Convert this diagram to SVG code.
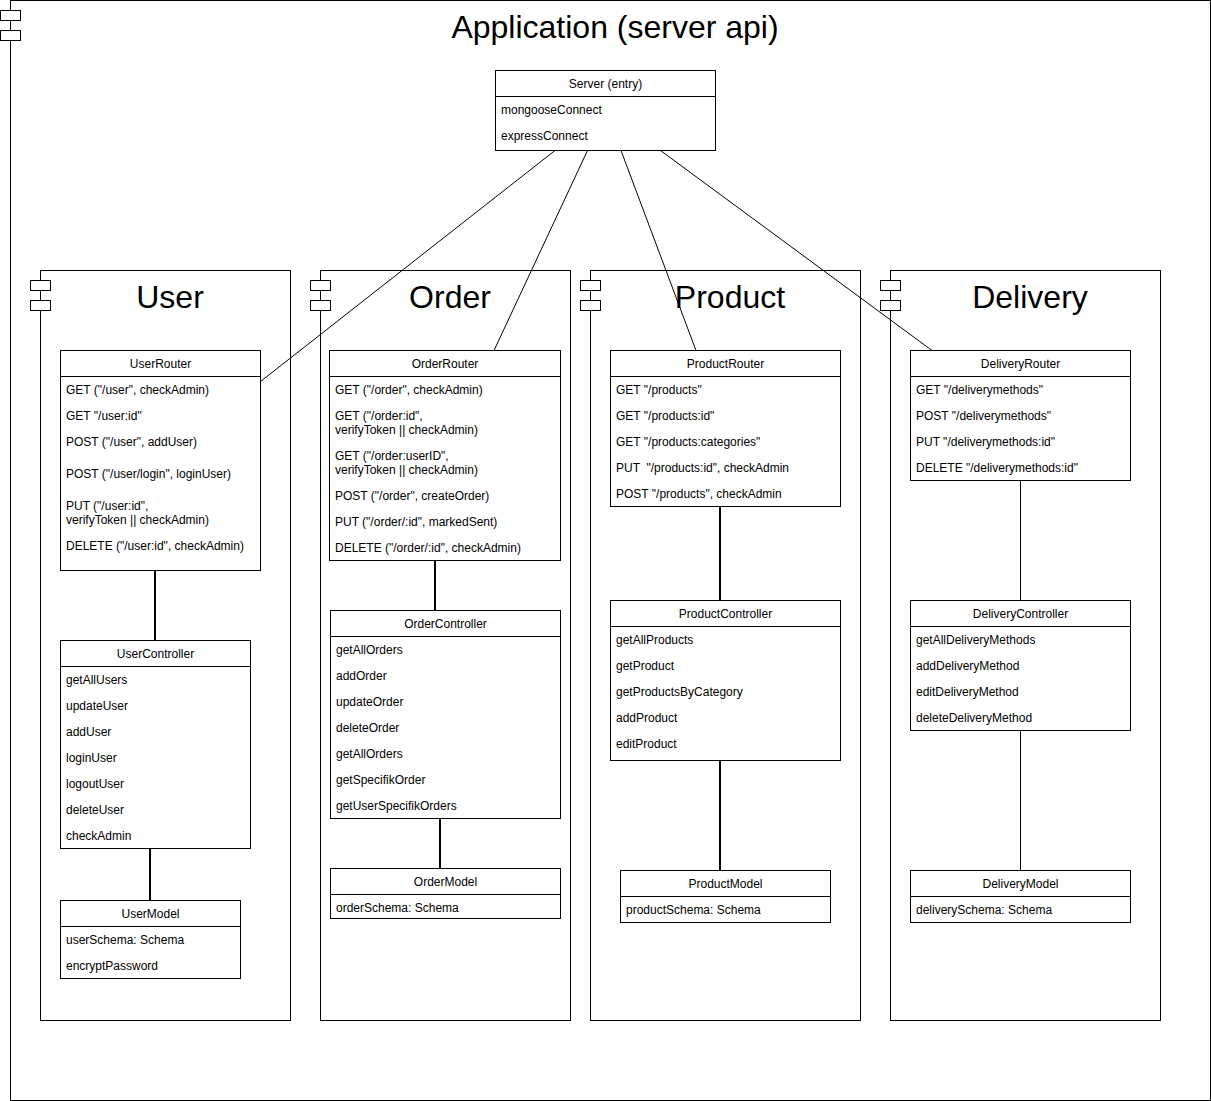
<svg xmlns="http://www.w3.org/2000/svg" width="1211" height="1101" viewBox="0 0 1211 1101">
<style>
.frame{fill:#fff;stroke:#000;stroke-width:1}
.box{fill:#fff;stroke:#000;stroke-width:1}
.sep{stroke:#000;stroke-width:1}
.t{font-family:"Liberation Sans",Arial,Helvetica,sans-serif;font-size:12px;fill:#000}
.h{text-anchor:middle}
.big{font-family:"Liberation Sans",Arial,Helvetica,sans-serif;font-size:32px;fill:#000;text-anchor:middle}
.c1{stroke:#000;stroke-width:1;fill:none}
.c2{stroke:#000;stroke-width:2;fill:none}
</style>
<rect x="0" y="0" width="1211" height="1101" fill="#fff"/>
<g id="app">
<rect class="frame" x="10.5" y="0.5" width="1200" height="1100"/>
<rect class="frame" x="0.5" y="10.5" width="20" height="10"/>
<rect class="frame" x="0.5" y="30.5" width="20" height="10"/>
<text class="big" x="615" y="38">Application (server api)</text>
</g>
<g id="userComp">
<rect class="frame" x="40.5" y="270.5" width="250" height="750"/>
<rect class="frame" x="30.5" y="280.5" width="20" height="10"/>
<rect class="frame" x="30.5" y="300.5" width="20" height="10"/>
<text class="big" x="170" y="308">User</text>
</g>
<g id="orderComp">
<rect class="frame" x="320.5" y="270.5" width="250" height="750"/>
<rect class="frame" x="310.5" y="280.5" width="20" height="10"/>
<rect class="frame" x="310.5" y="300.5" width="20" height="10"/>
<text class="big" x="450" y="308">Order</text>
</g>
<g id="productComp">
<rect class="frame" x="590.5" y="270.5" width="270" height="750"/>
<rect class="frame" x="580.5" y="280.5" width="20" height="10"/>
<rect class="frame" x="580.5" y="300.5" width="20" height="10"/>
<text class="big" x="730" y="308">Product</text>
</g>
<g id="deliveryComp">
<rect class="frame" x="890.5" y="270.5" width="270" height="750"/>
<rect class="frame" x="880.5" y="280.5" width="20" height="10"/>
<rect class="frame" x="880.5" y="300.5" width="20" height="10"/>
<text class="big" x="1030" y="308">Delivery</text>
</g>

<g id="connectors">
<line class="c1" x1="555" y1="150.5" x2="260.5" y2="381.5"/>
<line class="c1" x1="587.5" y1="150.5" x2="494" y2="350.5"/>
<line class="c1" x1="621" y1="150.5" x2="696" y2="350.5"/>
<line class="c1" x1="660.5" y1="150.5" x2="932" y2="350.5"/>
<line class="c2" x1="155" y1="570.5" x2="155" y2="640.5"/>
<line class="c2" x1="150" y1="848.5" x2="150" y2="900.5"/>
<line class="c2" x1="435" y1="560.5" x2="435" y2="610.5"/>
<line class="c2" x1="440" y1="818.5" x2="440" y2="868.5"/>
<line class="c2" x1="720" y1="506.5" x2="720" y2="600.5"/>
<line class="c2" x1="720" y1="760.5" x2="720" y2="870.5"/>
<line class="c1" x1="1020.5" y1="480.5" x2="1020.5" y2="600.5"/>
<line class="c1" x1="1020.5" y1="730.5" x2="1020.5" y2="870.5"/>
</g>

<g id="server">
<rect class="box" x="495.5" y="70.5" width="220" height="80"/>
<line class="sep" x1="495.5" y1="96.5" x2="715.5" y2="96.5"/>
<text class="t h" x="605.5" y="88">Server (entry)</text>
<text class="t" x="501" y="114">mongooseConnect</text>
<text class="t" x="501" y="140">expressConnect</text>
</g>

<g id="userRouter">
<rect class="box" x="60.5" y="350.5" width="200" height="220"/>
<line class="sep" x1="60.5" y1="376.5" x2="260.5" y2="376.5"/>
<text class="t h" x="160.5" y="368">UserRouter</text>
<text class="t" x="66" y="394">GET ("/user", checkAdmin)</text>
<text class="t" x="66" y="420">GET "/user:id"</text>
<text class="t" x="66" y="446">POST ("/user", addUser)</text>
<text class="t" x="66" y="478">POST ("/user/login", loginUser)</text>
<text class="t" x="66" y="510">PUT ("/user:id",</text>
<text class="t" x="66" y="524">verifyToken || checkAdmin)</text>
<text class="t" x="66" y="550">DELETE ("/user:id", checkAdmin)</text>
</g>
<g id="userController">
<rect class="box" x="60.5" y="640.5" width="190" height="208"/>
<line class="sep" x1="60.5" y1="666.5" x2="250.5" y2="666.5"/>
<text class="t h" x="155.5" y="658">UserController</text>
<text class="t" x="66" y="684">getAllUsers</text>
<text class="t" x="66" y="710">updateUser</text>
<text class="t" x="66" y="736">addUser</text>
<text class="t" x="66" y="762">loginUser</text>
<text class="t" x="66" y="788">logoutUser</text>
<text class="t" x="66" y="814">deleteUser</text>
<text class="t" x="66" y="840">checkAdmin</text>
</g>
<g id="userModel">
<rect class="box" x="60.5" y="900.5" width="180" height="78"/>
<line class="sep" x1="60.5" y1="926.5" x2="240.5" y2="926.5"/>
<text class="t h" x="150.5" y="918">UserModel</text>
<text class="t" x="66" y="944">userSchema: Schema</text>
<text class="t" x="66" y="970">encryptPassword</text>
</g>

<g id="orderRouter">
<rect class="box" x="329.5" y="350.5" width="231" height="210"/>
<line class="sep" x1="329.5" y1="376.5" x2="560.5" y2="376.5"/>
<text class="t h" x="445" y="368">OrderRouter</text>
<text class="t" x="335" y="394">GET ("/order", checkAdmin)</text>
<text class="t" x="335" y="420">GET ("/order:id",</text>
<text class="t" x="335" y="434">verifyToken || checkAdmin)</text>
<text class="t" x="335" y="460">GET ("/order:userID",</text>
<text class="t" x="335" y="474">verifyToken || checkAdmin)</text>
<text class="t" x="335" y="500">POST ("/order", createOrder)</text>
<text class="t" x="335" y="526">PUT ("/order/:id", markedSent)</text>
<text class="t" x="335" y="552">DELETE ("/order/:id", checkAdmin)</text>
</g>
<g id="orderController">
<rect class="box" x="330.5" y="610.5" width="230" height="208"/>
<line class="sep" x1="330.5" y1="636.5" x2="560.5" y2="636.5"/>
<text class="t h" x="445.5" y="628">OrderController</text>
<text class="t" x="336" y="654">getAllOrders</text>
<text class="t" x="336" y="680">addOrder</text>
<text class="t" x="336" y="706">updateOrder</text>
<text class="t" x="336" y="732">deleteOrder</text>
<text class="t" x="336" y="758">getAllOrders</text>
<text class="t" x="336" y="784">getSpecifikOrder</text>
<text class="t" x="336" y="810">getUserSpecifikOrders</text>
</g>
<g id="orderModel">
<rect class="box" x="330.5" y="868.5" width="230" height="50"/>
<line class="sep" x1="330.5" y1="894.5" x2="560.5" y2="894.5"/>
<text class="t h" x="445.5" y="886">OrderModel</text>
<text class="t" x="336" y="912">orderSchema: Schema</text>
</g>

<g id="productRouter">
<rect class="box" x="610.5" y="350.5" width="230" height="156"/>
<line class="sep" x1="610.5" y1="376.5" x2="840.5" y2="376.5"/>
<text class="t h" x="725.5" y="368">ProductRouter</text>
<text class="t" x="616" y="394">GET "/products"</text>
<text class="t" x="616" y="420">GET "/products:id"</text>
<text class="t" x="616" y="446">GET "/products:categories"</text>
<text class="t" x="616" y="472" xml:space="preserve">PUT  "/products:id", checkAdmin</text>
<text class="t" x="616" y="498">POST "/products", checkAdmin</text>
</g>
<g id="productController">
<rect class="box" x="610.5" y="600.5" width="230" height="160"/>
<line class="sep" x1="610.5" y1="626.5" x2="840.5" y2="626.5"/>
<text class="t h" x="725.5" y="618">ProductController</text>
<text class="t" x="616" y="644">getAllProducts</text>
<text class="t" x="616" y="670">getProduct</text>
<text class="t" x="616" y="696">getProductsByCategory</text>
<text class="t" x="616" y="722">addProduct</text>
<text class="t" x="616" y="748">editProduct</text>
</g>
<g id="productModel">
<rect class="box" x="620.5" y="870.5" width="210" height="52"/>
<line class="sep" x1="620.5" y1="896.5" x2="830.5" y2="896.5"/>
<text class="t h" x="725.5" y="888">ProductModel</text>
<text class="t" x="626" y="914">productSchema: Schema</text>
</g>

<g id="deliveryRouter">
<rect class="box" x="910.5" y="350.5" width="220" height="130"/>
<line class="sep" x1="910.5" y1="376.5" x2="1130.5" y2="376.5"/>
<text class="t h" x="1020.5" y="368">DeliveryRouter</text>
<text class="t" x="916" y="394">GET "/deliverymethods"</text>
<text class="t" x="916" y="420">POST "/deliverymethods"</text>
<text class="t" x="916" y="446">PUT "/deliverymethods:id"</text>
<text class="t" x="916" y="472">DELETE "/deliverymethods:id"</text>
</g>
<g id="deliveryController">
<rect class="box" x="910.5" y="600.5" width="220" height="130"/>
<line class="sep" x1="910.5" y1="626.5" x2="1130.5" y2="626.5"/>
<text class="t h" x="1020.5" y="618">DeliveryController</text>
<text class="t" x="916" y="644">getAllDeliveryMethods</text>
<text class="t" x="916" y="670">addDeliveryMethod</text>
<text class="t" x="916" y="696">editDeliveryMethod</text>
<text class="t" x="916" y="722">deleteDeliveryMethod</text>
</g>
<g id="deliveryModel">
<rect class="box" x="910.5" y="870.5" width="220" height="52"/>
<line class="sep" x1="910.5" y1="896.5" x2="1130.5" y2="896.5"/>
<text class="t h" x="1020.5" y="888">DeliveryModel</text>
<text class="t" x="916" y="914">deliverySchema: Schema</text>
</g>
</svg>
